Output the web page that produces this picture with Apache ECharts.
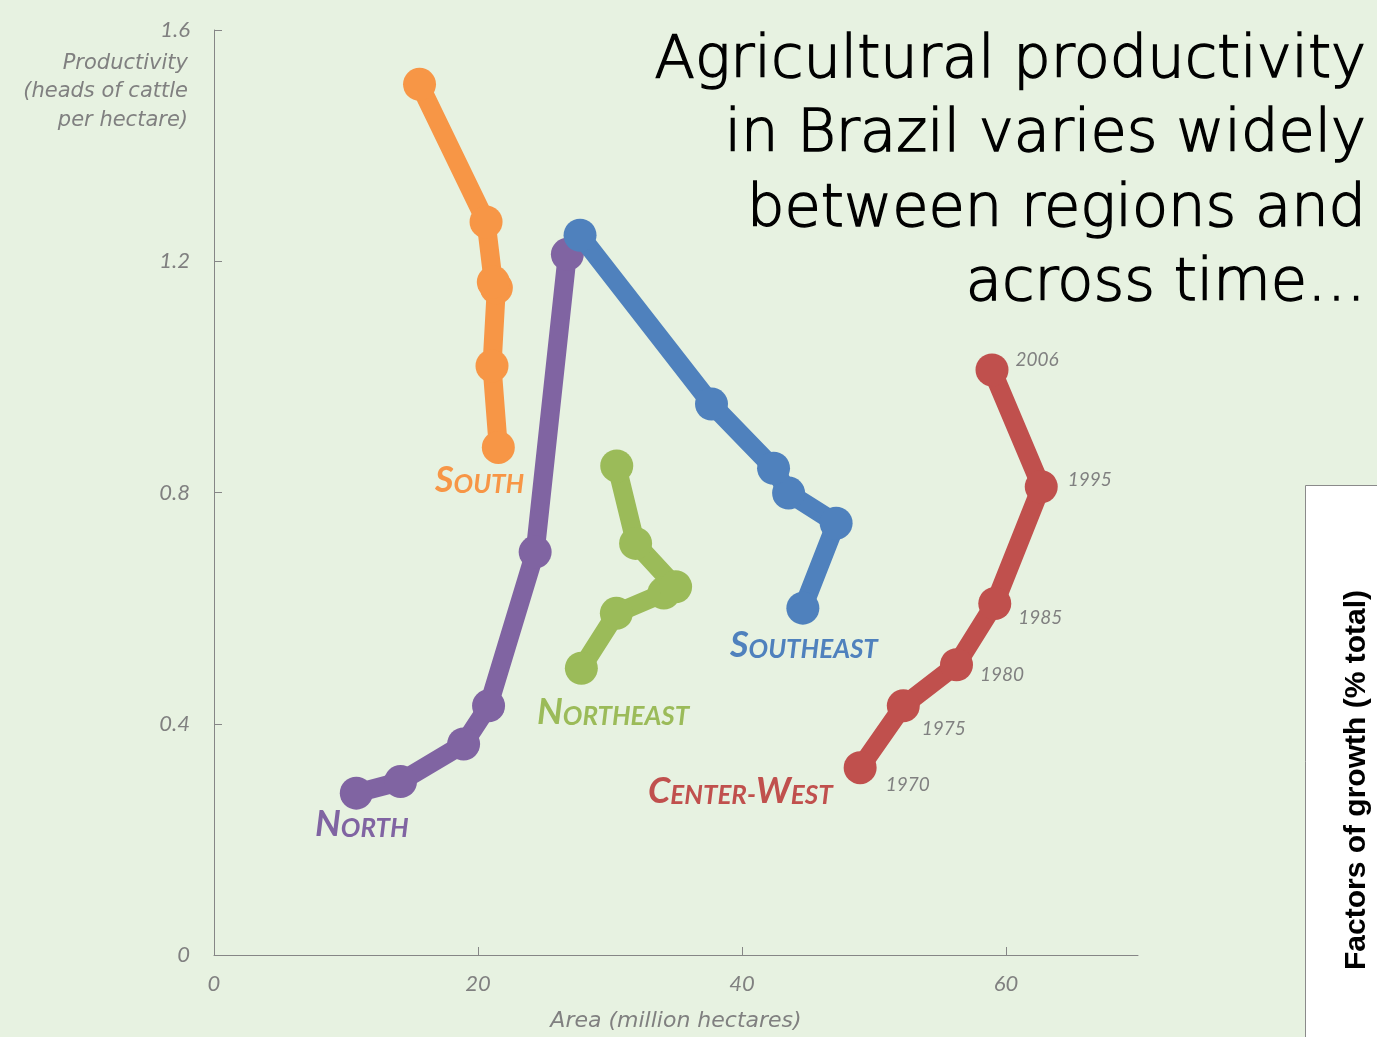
<!DOCTYPE html>
<html>
<head>
<meta charset="utf-8">
<title>Agricultural productivity in Brazil</title>
<script src="https://cdn.jsdelivr.net/npm/echarts@6/dist/echarts.min.js"></script>
<style>
  html, body { margin: 0; padding: 0; background: #e7f2e1; }
  #chart { width: 1377px; height: 1037px; }
</style>
</head>
<body>
<div id="chart"></div>
<script>
// Survey years shared by every region
const years = ['1970', '1975', '1980', '1985', '1995', '2006'];

// Pasture area (million hectares) and productivity (heads of cattle per hectare)
const southArea = [21.54, 21.06, 21.39, 21.16, 20.61, 15.57];
const southProd = [0.878, 1.019, 1.154, 1.164, 1.268, 1.506];

const northArea = [10.78, 14.13, 18.91, 20.80, 24.33, 26.77];
const northProd = [0.280, 0.300, 0.365, 0.431, 0.697, 1.212];

const northeastArea = [27.83, 30.48, 34.08, 34.97, 31.94, 30.51];
const northeastProd = [0.496, 0.591, 0.626, 0.637, 0.712, 0.846];

const southeastArea = [44.61, 47.13, 43.53, 42.39, 37.69, 27.73];
const southeastProd = [0.600, 0.747, 0.799, 0.842, 0.953, 1.245];

const centerWestArea = [48.95, 52.22, 56.25, 59.15, 62.67, 58.94];
const centerWestProd = [0.324, 0.431, 0.502, 0.608, 0.810, 1.012];

// Axis ticks
const xTicks = [0, 20, 40, 60];
const yTicks = [0, 0.4, 0.8, 1.2, 1.6];

// Nudges for the Center-West year labels, [dx, dy] in px
const yearLabelOffsets = [[9, 17], [2, 23], [7, 10], [7, 14], [10, -7], [7, -10]];

const AXIS_GRAY = '#868686';
const TEXT_GRAY = '#808080';
const SYMBOL = 33;
const LINE_W = 19;
const NAME_FONT = 'DejaVu Sans';

function pairs(area, prod) {
  return area.map((a, i) => [a, prod[i]]);
}

function regionSeries(name, color, area, prod, z) {
  return {
    name: name,
    type: 'line',
    z: z,
    data: pairs(area, prod),
    symbol: 'circle',
    symbolSize: SYMBOL,
    showSymbol: true,
    clip: false,
    itemStyle: { color: color },
    lineStyle: { color: color, width: LINE_W, cap: 'round', join: 'round' },
    emphasis: { disabled: true },
    silent: true
  };
}

const cwSeries = regionSeries('Center-West', '#c0504d', centerWestArea, centerWestProd, 7);
cwSeries.data = centerWestArea.map((a, i) => ({
  value: [a, centerWestProd[i]],
  label: {
    show: true,
    formatter: years[i],
    position: 'right',
    distance: 0,
    offset: yearLabelOffsets[i],
    color: TEXT_GRAY,
    fontFamily: 'Lato',
    fontStyle: 'italic',
    fontSize: 19
  }
}));

// Small-caps region name: each word gets a large initial and smaller remainder
function regionLabel(words, color, left, baseline) {
  const text = words.map(w => '{a|' + w[0] + '}{b|' + w.slice(1) + '}').join('{b|-}');
  const base = { fontFamily: 'Lato', fontWeight: 'bold', fontStyle: 'italic', fill: color, verticalAlign: 'bottom', lineHeight: 38 };
  return {
    type: 'text',
    left: left,
    top: baseline - 34,
    silent: true,
    style: {
      text: text,
      rich: {
        a: Object.assign({ fontSize: 36 }, base),
        b: Object.assign({ fontSize: 26 }, base)
      }
    }
  };
}

const chart = echarts.init(document.getElementById('chart'), null, { renderer: 'canvas' });

chart.setOption({
  backgroundColor: '#e7f2e1',
  animation: false,
  grid: { left: 214, right: 239, top: 30, bottom: 82, containLabel: false },
  xAxis: {
    type: 'value',
    min: 0,
    max: 70,
    interval: 20,
    name: 'Area (million hectares)',
    nameLocation: 'middle',
    nameGap: 55,
    nameTextStyle: { color: TEXT_GRAY, fontFamily: NAME_FONT, fontStyle: 'italic', fontWeight: 300, fontSize: 22, verticalAlign: 'top' },
    axisLine: { show: true, lineStyle: { color: AXIS_GRAY, width: 1 } },
    axisTick: { show: true, inside: true, length: 8, lineStyle: { color: AXIS_GRAY }, customValues: xTicks },
    axisLabel: { color: TEXT_GRAY, fontFamily: 'Lato', fontStyle: 'italic', fontSize: 22, margin: 18, customValues: xTicks },
    splitLine: { show: false }
  },
  yAxis: {
    type: 'value',
    min: 0,
    max: 1.6,
    interval: 0.4,
    axisLine: { show: true, lineStyle: { color: AXIS_GRAY, width: 1 } },
    axisTick: { show: true, inside: true, length: 8, lineStyle: { color: AXIS_GRAY }, customValues: yTicks },
    axisLabel: {
      color: TEXT_GRAY, fontFamily: 'Lato', fontStyle: 'italic', fontSize: 22, margin: 24,
      customValues: yTicks,
      formatter: v => (v === 0 ? '0' : v.toFixed(1))
    },
    splitLine: { show: false }
  },
  graphic: [
    {
      type: 'text',
      x: 188,
      y: 49,
      silent: true,
      style: {
        text: 'Productivity\n(heads of cattle\nper hectare)',
        align: 'right',
        verticalAlign: 'top',
        fill: TEXT_GRAY,
        fontFamily: NAME_FONT,
        fontStyle: 'italic',
        fontWeight: 300,
        fontSize: 21,
        lineHeight: 28.5
      }
    },
    {
      type: 'text',
      x: 1366,
      y: 24,
      silent: true,
      style: {
        text: 'Agricultural productivity\nin Brazil varies widely\nbetween regions and\nacross time…',
        align: 'right',
        verticalAlign: 'top',
        fill: '#000000',
        stroke: '#000000',
        lineWidth: 1.4,
        fontFamily: NAME_FONT,
        fontWeight: 200,
        fontSize: 59,
        lineHeight: 74.5
      }
    },
    regionLabel(['SOUTH'], '#f79646', 435, 496),
    regionLabel(['NORTH'], '#8064a2', 315, 840),
    regionLabel(['NORTHEAST'], '#9bbb59', 537, 728),
    regionLabel(['SOUTHEAST'], '#4f81bd', 730, 661),
    regionLabel(['CENTER', 'WEST'], '#c0504d', 648, 807),
    {
      type: 'rect',
      left: 1305,
      top: 485,
      silent: true,
      shape: { width: 90, height: 570 },
      style: { fill: '#ffffff', stroke: '#8a8a8a', lineWidth: 1 }
    },
    {
      type: 'text',
      x: 1357,
      y: 780,
      rotation: Math.PI / 2,
      silent: true,
      style: {
        text: 'Factors of growth (% total)',
        align: 'center',
        verticalAlign: 'middle',
        fill: '#000000',
        fontFamily: 'Liberation Sans',
        fontWeight: 'bold',
        fontSize: 30
      }
    }
  ],
  series: [
    regionSeries('South', '#f79646', southArea, southProd, 3),
    regionSeries('North', '#8064a2', northArea, northProd, 4),
    regionSeries('Northeast', '#9bbb59', northeastArea, northeastProd, 5),
    regionSeries('Southeast', '#4f81bd', southeastArea, southeastProd, 6),
    cwSeries
  ]
});
</script>
</body>
</html>
